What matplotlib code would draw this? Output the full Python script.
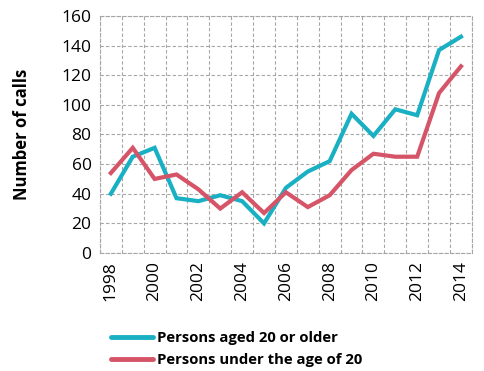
import numpy as np
import matplotlib.pyplot as plt
from matplotlib.lines import Line2D

years = list(range(1998, 2015))
older = [40, 65, 71, 37, 35, 39, 35, 20, 44, 55, 62, 94, 79, 97, 93, 137, 146]
younger = [54, 71, 50, 53, 43, 30, 41, 27, 41, 31, 39, 56, 67, 65, 65, 108, 126]
labels = ['Persons aged 20 or older', 'Persons under the age of 20']
colors = ['#1AB0C3', '#D65468']

plt.rcParams['font.family'] = ['Open Sans', 'DejaVu Sans']

fig = plt.figure(figsize=(4.85, 3.71), dpi=100)
ax = fig.add_axes([0.206, 0.318, 0.767, 0.639])

x = np.arange(len(years))
ax.plot(x, older, color=colors[0], lw=3, solid_joinstyle='miter')
ax.plot(x, younger, color=colors[1], lw=3, solid_joinstyle='miter')

ax.set_xlim(-0.5, len(years) - 0.5)
ax.set_ylim(0, 160)
ax.set_yticks(range(0, 161, 20))
ax.set_xticks(x[::2])
ax.set_xticklabels([str(y) for y in years[::2]], rotation=90, fontsize=12.5)
ax.tick_params(axis='y', labelsize=12.5)
ax.tick_params(length=0, pad=6)

# gridlines between categories (vertical) and at each y tick
ax.set_xticks(np.arange(-0.5, len(years), 1), minor=True)
ax.grid(True, which='minor', axis='x', color='#A6A6A6', ls=(0, (3, 2)), lw=0.8)
ax.grid(True, which='major', axis='y', color='#A6A6A6', ls=(0, (3, 2)), lw=0.8)
ax.tick_params(which='minor', length=0)
for s in ax.spines.values():
    s.set_color('#A6A6A6')
    s.set_linestyle((0, (3, 2)))
    s.set_linewidth(0.8)
ax.set_axisbelow(True)

ax.set_ylabel('Number of calls', fontsize=12, fontweight='bold', labelpad=22)

handles = [Line2D([], [], color=c, lw=3.5, solid_capstyle='round') for c in colors]
fig.legend(handles, labels, loc='upper left', bbox_to_anchor=(0.214, 0.127),
           frameon=False, prop={'weight': 'bold', 'size': 10.7},
           handlelength=2.8, handletextpad=0.25, labelspacing=0.5, borderpad=0)

fig.savefig('out.png', dpi=100)
